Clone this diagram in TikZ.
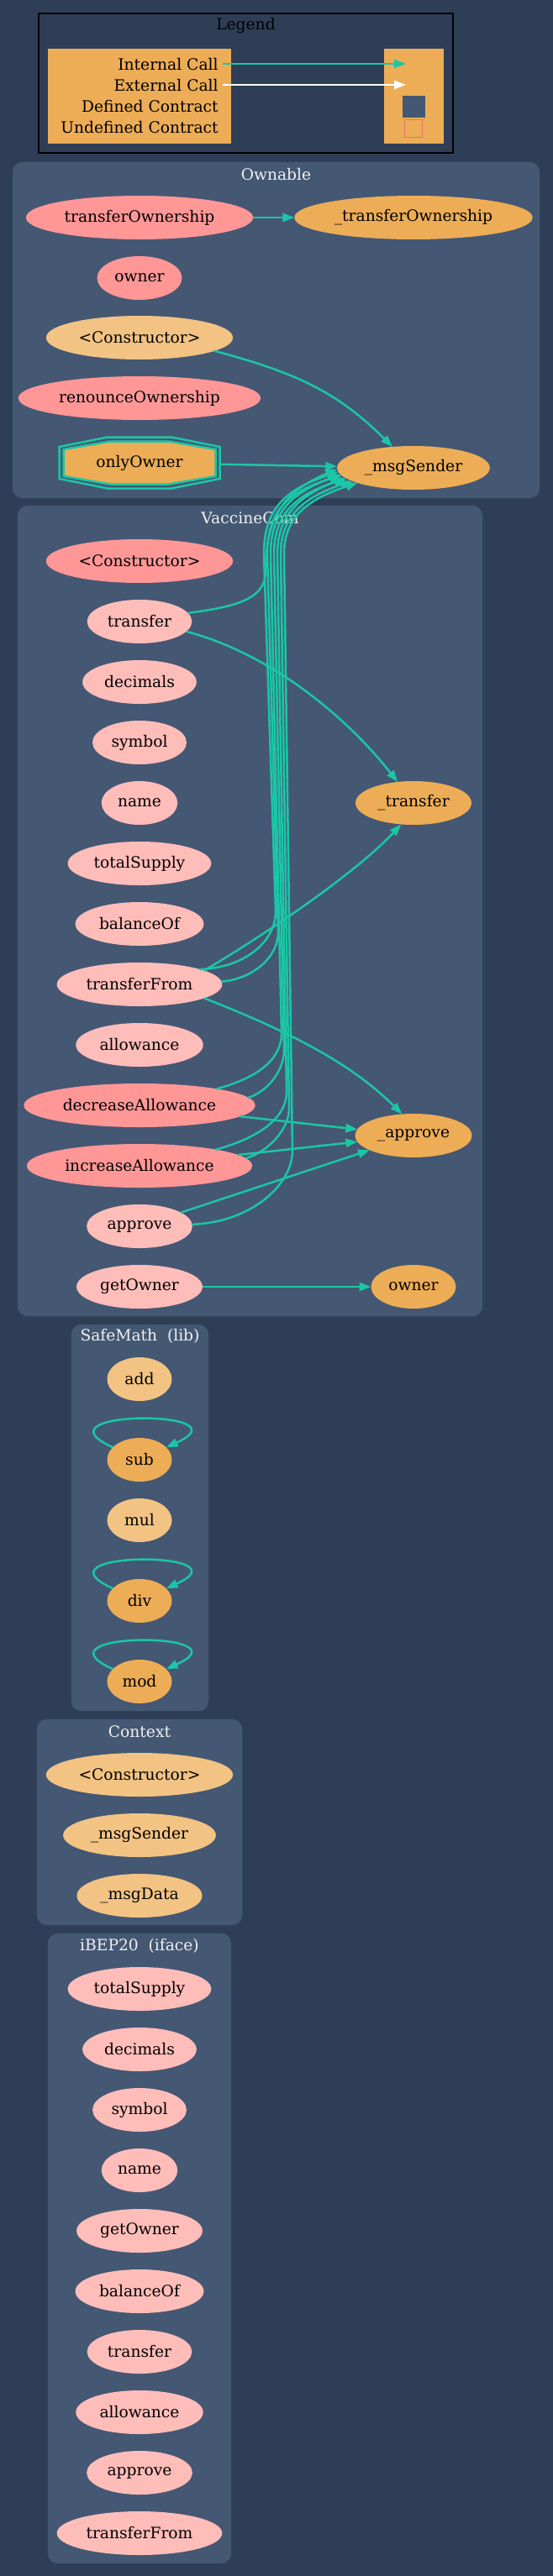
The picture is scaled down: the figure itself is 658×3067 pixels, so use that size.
\documentclass[tikz,border=0pt]{standalone}
\usepackage{fontspec}
\setmainfont{DejaVu Serif}
\usetikzlibrary{math,shapes.geometric,arrows.meta}

\definecolor{bgblue}{HTML}{2E3E56}
\definecolor{clusterblue}{HTML}{445773}
\definecolor{titlegray}{HTML}{F0F0F0}
\definecolor{pubred}{HTML}{FF9797}
\definecolor{extpink}{HTML}{FFBDB9}
\definecolor{intorange}{HTML}{F2C383}
\definecolor{privorange}{HTML}{EDAD56}
\definecolor{callteal}{HTML}{1BC6A6}
\definecolor{undefred}{HTML}{E8726D}
\newcommand{\gvfont}{\fontsize{18.67}{25}\selectfont}

\begin{document}
\begin{tikzpicture}[x=1pt, y=-1pt,
  fn/.style={ellipse, fill=#1, draw=#1, line width=3pt, minimum width=74pt,
    minimum height=49pt, inner xsep=5pt, font=\gvfont},
  cluster/.style={fill=clusterblue, draw=clusterblue, rounded corners=12pt},
  clustertitle/.style={text=titlegray, font=\gvfont},
  call/.style={draw=callteal, line width=2.5pt, -{Triangle[length=14pt,width=10pt]}}]
  \tikzmath{%
    \leftcol = 166; \rightcol = 492;
  }

  \useasboundingbox (0,0) rectangle (658,3067);
  \fill[bgblue] (0,0) rectangle (658,3067);

  % legend
  \draw[black, line width=1.3pt] (46,16) rectangle (539,182);
  \node[font=\gvfont] (legendtitle) at (292.5,30) {Legend};
  \node[fill=privorange, draw=privorange, line width=3pt, align=right, minimum width=215pt,
    minimum height=110pt, inner xsep=12.5pt, font=\gvfont] (key) at (166,114.5)
    {Internal Call\\External Call\\Defined Contract\\Undefined Contract};
  \node[fill=privorange, draw=privorange, line width=3pt, minimum width=68pt,
    minimum height=110pt] (keytwo) at (492.5,114.5) {};
  \node[fill=clusterblue, minimum width=27pt, minimum height=26pt, inner sep=0pt] (keydefined) at (492.5,127) {};
  \node[draw=undefred, line width=1.2pt, minimum width=21pt, minimum height=21pt, inner sep=0pt] (keyundefined) at (492,153) {};
  \coordinate (keyint) at (265,76);
  \coordinate (keytwoint) at (483,76);
  \coordinate (keyext) at (265,101);
  \coordinate (keytwoext) at (483,101);
  \draw[call] (keyint) -- (keytwoint);
  \draw[call, draw=white] (keyext) -- (keytwoext);

  % clusters
  \draw[cluster] (15,193) rectangle (642,593);
  \node[clustertitle] (ownabletitle) at (328.5,208) {Ownable};
  \draw[cluster] (21,602) rectangle (574,1567);
  \node[clustertitle] (vaccinetitle) at (297.5,617) {VaccineCom};
  \draw[cluster] (85,1577) rectangle (248,2037);
  \node[clustertitle] (safemathtitle) at (166.5,1591) {SafeMath\ \ (lib)};
  \draw[cluster] (44,2047) rectangle (288,2292);
  \node[clustertitle] (contexttitle) at (166,2062) {Context};
  \draw[cluster] (57,2302) rectangle (275,3052);
  \node[clustertitle] (ibeptitle) at (166,2317) {iBEP20\ \ (iface)};

  % Ownable
  \node[fn=pubred] (otransferownership) at (\leftcol,259) {transferOwnership};
  \node[fn=privorange] (oitransferownership) at (\rightcol,259) {\_transferOwnership};
  \node[fn=pubred] (oowner) at (\leftcol,331) {owner};
  \node[fn=intorange] (oconstructor) at (\leftcol,402) {\textless Constructor\textgreater};
  \node[fn=pubred] (orenounce) at (\leftcol,474) {renounceOwnership};
  \draw[callteal, line width=2.5pt, shift={(\leftcol,551)}]
    (-38,-30.5) -- (38,-30.5) -- (95.5,-19) -- (95.5,19) -- (38,30.5) -- (-38,30.5)
    -- (-95.5,19) -- (-95.5,-19) -- cycle;
  \draw[callteal, fill=privorange, line width=2.5pt, shift={(\leftcol,551)}]
    (-35,-25.5) -- (35,-25.5) -- (90.5,-16) -- (90.5,16) -- (35,25.5) -- (-35,25.5)
    -- (-90.5,16) -- (-90.5,-16) -- cycle;
  \node[minimum width=191pt, minimum height=61pt, font=\gvfont] (oonlyowner) at (\leftcol,551) {onlyOwner};
  \node[fn=privorange] (omsgsender) at (\rightcol,557) {\_msgSender};

  % VaccineCom
  \node[fn=pubred] (vconstructor) at (\leftcol,668) {\textless Constructor\textgreater};
  \node[fn=extpink] (vtransfer) at (\leftcol,740) {transfer};
  \node[fn=extpink] (vdecimals) at (\leftcol,812) {decimals};
  \node[fn=extpink] (vsymbol) at (\leftcol,884) {symbol};
  \node[fn=extpink] (vname) at (\leftcol,956) {name};
  \node[fn=extpink] (vtotalsupply) at (\leftcol,1028) {totalSupply};
  \node[fn=extpink] (vbalanceof) at (\leftcol,1100) {balanceOf};
  \node[fn=extpink] (vtransferfrom) at (\leftcol,1172) {transferFrom};
  \node[fn=extpink] (vallowance) at (\leftcol,1244) {allowance};
  \node[fn=pubred] (vdecrease) at (\leftcol,1316) {decreaseAllowance};
  \node[fn=pubred] (vincrease) at (\leftcol,1388) {increaseAllowance};
  \node[fn=extpink] (vapprove) at (\leftcol,1460) {approve};
  \node[fn=extpink] (vgetowner) at (\leftcol,1532) {getOwner};
  \node[fn=privorange] (vitransfer) at (\rightcol,956) {\_transfer};
  \node[fn=privorange] (viapprove) at (\rightcol,1352) {\_approve};
  \node[fn=privorange] (viowner) at (\rightcol,1532) {owner};

  % SafeMath
  \node[fn=intorange] (sadd) at (\leftcol,1642) {add};
  \node[fn=privorange] (ssub) at (\leftcol,1738) {sub};
  \node[fn=intorange] (smul) at (\leftcol,1810) {mul};
  \node[fn=privorange] (sdiv) at (\leftcol,1906) {div};
  \node[fn=privorange] (smod) at (\leftcol,2002) {mod};

  % Context
  \node[fn=intorange] (cconstructor) at (\leftcol,2113) {\textless Constructor\textgreater};
  \node[fn=intorange] (cmsgsender) at (\leftcol,2185) {\_msgSender};
  \node[fn=intorange] (cmsgdata) at (\leftcol,2257) {\_msgData};

  % iBEP20
  \node[fn=extpink] (itotalsupply) at (\leftcol,2368) {totalSupply};
  \node[fn=extpink] (idecimals) at (\leftcol,2440) {decimals};
  \node[fn=extpink] (isymbol) at (\leftcol,2512) {symbol};
  \node[fn=extpink] (iname) at (\leftcol,2584) {name};
  \node[fn=extpink] (igetowner) at (\leftcol,2656) {getOwner};
  \node[fn=extpink] (ibalanceof) at (\leftcol,2728) {balanceOf};
  \node[fn=extpink] (itransfer) at (\leftcol,2800) {transfer};
  \node[fn=extpink] (iallowance) at (\leftcol,2872) {allowance};
  \node[fn=extpink] (iapprove) at (\leftcol,2944) {approve};
  \node[fn=extpink] (itransferfrom) at (\leftcol,3016) {transferFrom};

  % calls
  \draw[call] (otransferownership) -- (oitransferownership);
  \draw[call] (oconstructor.-10) .. controls (349,443) and (400,465) .. (omsgsender.135);
  \draw[call] (oonlyowner) -- (omsgsender);

  \draw[call] (vtransfer.10) .. controls (285,722) and (316,712) .. (316,680)
    .. controls (316,615) and (338,585) .. (omsgsender.181);
  \draw[call] (vtransfer.-12) .. controls (321,778) and (411,852) .. (vitransfer.127);
  \draw[call] (vtransferfrom.12) .. controls (312,1115) and (423,1040) .. (vitransfer.-120);
  \draw[call] (vtransferfrom.-12) .. controls (336,1225) and (415,1263) .. (viapprove.118);
  \draw[call] (vtransferfrom.14) .. controls (293,1152) and (328,1120) .. (328,1085)
    -- (314,660) .. controls (314,605) and (340,583) .. (omsgsender.183);
  \draw[call] (vtransferfrom.2) .. controls (300,1166) and (331,1140) .. (331,1110)
    -- (318,660) .. controls (318,607) and (344,585) .. (omsgsender.186);
  \draw[call] (vdecrease.12) .. controls (300,1285) and (335,1265) .. (335,1230)
    -- (322,660) .. controls (322,609) and (348,587) .. (omsgsender.185);
  \draw[call] (vdecrease.4) .. controls (318,1300) and (338,1275) .. (338,1250)
    -- (326,660) .. controls (326,611) and (352,589) .. (omsgsender.189);
  \draw[call] (vincrease.12) .. controls (300,1357) and (341,1335) .. (341,1300)
    -- (330,660) .. controls (330,613) and (356,591) .. (omsgsender.188);
  \draw[call] (vincrease.4) .. controls (318,1372) and (344,1345) .. (344,1320)
    -- (334,660) .. controls (334,615) and (360,593) .. (omsgsender.192);
  \draw[call] (vapprove.2) .. controls (300,1455) and (348,1410) .. (348,1370)
    -- (338,660) .. controls (338,617) and (364,595) .. (omsgsender.195);
  \draw[call] (vdecrease) -- (viapprove);
  \draw[call] (vincrease) -- (viapprove);
  \draw[call] (vapprove) -- (viapprove);
  \draw[call] (vgetowner) -- (viowner);

  \draw[call] (ssub.155) .. controls (\leftcol-132,1678) and (\leftcol+132,1678) .. (ssub.25);
  \draw[call] (sdiv.155) .. controls (\leftcol-132,1846) and (\leftcol+132,1846) .. (sdiv.25);
  \draw[call] (smod.155) .. controls (\leftcol-132,1942) and (\leftcol+132,1942) .. (smod.25);
\end{tikzpicture}
\end{document}
